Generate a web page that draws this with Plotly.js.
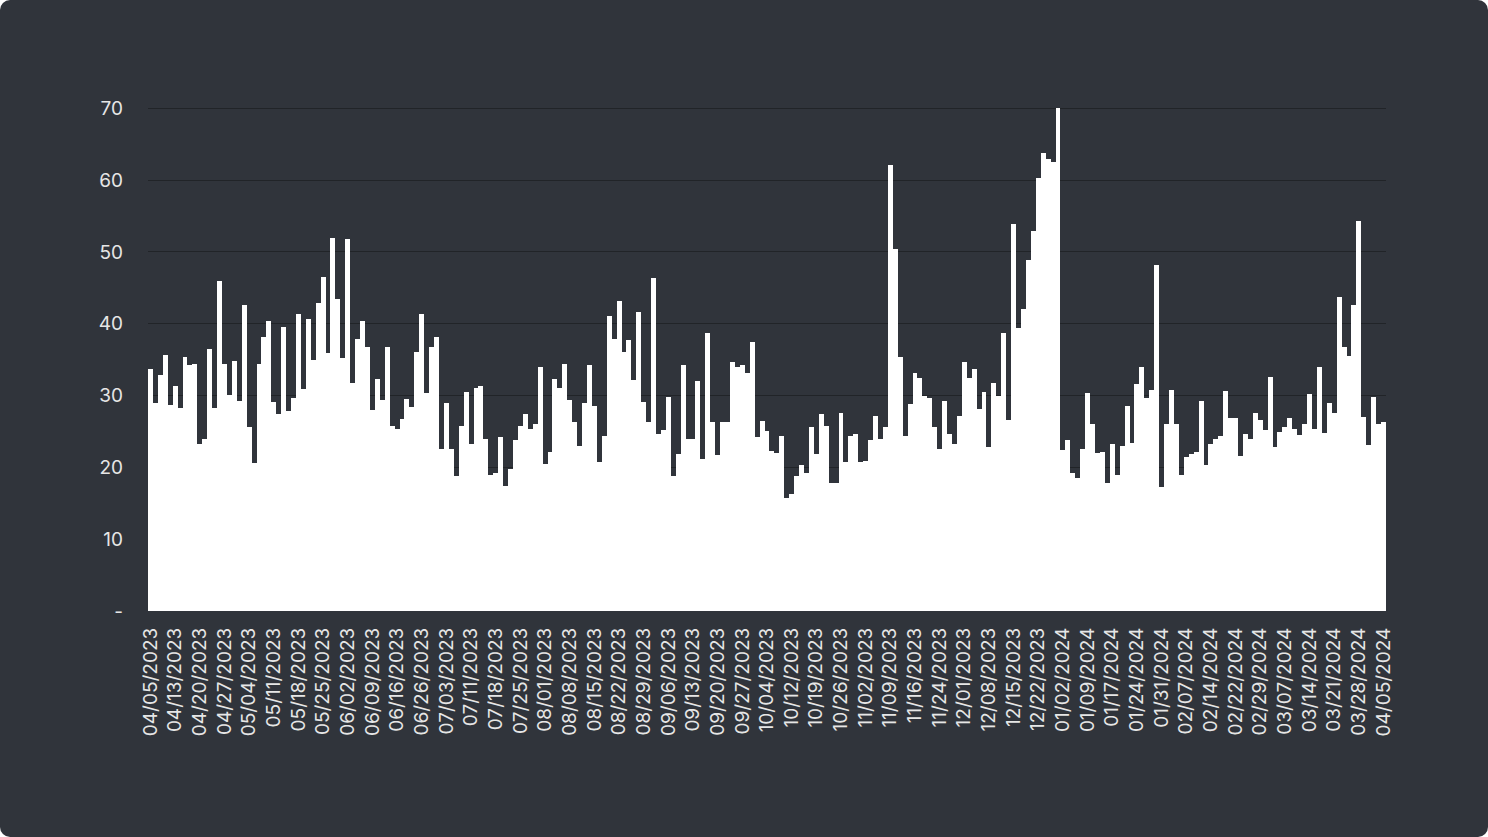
<!DOCTYPE html>
<html>
<head>
<meta charset="utf-8">
<script src="https://cdn.plot.ly/plotly-3.0.1.min.js"></script>
<style>
  html, body { margin: 0; padding: 0; background: #ffffff; }
  #chart { width: 1488px; height: 837px; background: #30343b; border-radius: 10px; overflow: hidden; }
</style>
</head>
<body>
<div id="chart"></div>
<script>
// trading days, one row per 5 sessions (every row starts with a tick label)
const dates = [
  "04/05/2023", "04/06/2023", "04/10/2023", "04/11/2023", "04/12/2023",
  "04/13/2023", "04/14/2023", "04/17/2023", "04/18/2023", "04/19/2023",
  "04/20/2023", "04/21/2023", "04/24/2023", "04/25/2023", "04/26/2023",
  "04/27/2023", "04/28/2023", "05/01/2023", "05/02/2023", "05/03/2023",
  "05/04/2023", "05/05/2023", "05/08/2023", "05/09/2023", "05/10/2023",
  "05/11/2023", "05/12/2023", "05/15/2023", "05/16/2023", "05/17/2023",
  "05/18/2023", "05/19/2023", "05/22/2023", "05/23/2023", "05/24/2023",
  "05/25/2023", "05/26/2023", "05/30/2023", "05/31/2023", "06/01/2023",
  "06/02/2023", "06/05/2023", "06/06/2023", "06/07/2023", "06/08/2023",
  "06/09/2023", "06/12/2023", "06/13/2023", "06/14/2023", "06/15/2023",
  "06/16/2023", "06/20/2023", "06/21/2023", "06/22/2023", "06/23/2023",
  "06/26/2023", "06/27/2023", "06/28/2023", "06/29/2023", "06/30/2023",
  "07/03/2023", "07/05/2023", "07/06/2023", "07/07/2023", "07/10/2023",
  "07/11/2023", "07/12/2023", "07/13/2023", "07/14/2023", "07/17/2023",
  "07/18/2023", "07/19/2023", "07/20/2023", "07/21/2023", "07/24/2023",
  "07/25/2023", "07/26/2023", "07/27/2023", "07/28/2023", "07/31/2023",
  "08/01/2023", "08/02/2023", "08/03/2023", "08/04/2023", "08/07/2023",
  "08/08/2023", "08/09/2023", "08/10/2023", "08/11/2023", "08/14/2023",
  "08/15/2023", "08/16/2023", "08/17/2023", "08/18/2023", "08/21/2023",
  "08/22/2023", "08/23/2023", "08/24/2023", "08/25/2023", "08/28/2023",
  "08/29/2023", "08/30/2023", "08/31/2023", "09/01/2023", "09/05/2023",
  "09/06/2023", "09/07/2023", "09/08/2023", "09/11/2023", "09/12/2023",
  "09/13/2023", "09/14/2023", "09/15/2023", "09/18/2023", "09/19/2023",
  "09/20/2023", "09/21/2023", "09/22/2023", "09/25/2023", "09/26/2023",
  "09/27/2023", "09/28/2023", "09/29/2023", "10/02/2023", "10/03/2023",
  "10/04/2023", "10/05/2023", "10/06/2023", "10/10/2023", "10/11/2023",
  "10/12/2023", "10/13/2023", "10/16/2023", "10/17/2023", "10/18/2023",
  "10/19/2023", "10/20/2023", "10/23/2023", "10/24/2023", "10/25/2023",
  "10/26/2023", "10/27/2023", "10/30/2023", "10/31/2023", "11/01/2023",
  "11/02/2023", "11/03/2023", "11/06/2023", "11/07/2023", "11/08/2023",
  "11/09/2023", "11/10/2023", "11/13/2023", "11/14/2023", "11/15/2023",
  "11/16/2023", "11/17/2023", "11/20/2023", "11/21/2023", "11/22/2023",
  "11/24/2023", "11/27/2023", "11/28/2023", "11/29/2023", "11/30/2023",
  "12/01/2023", "12/04/2023", "12/05/2023", "12/06/2023", "12/07/2023",
  "12/08/2023", "12/11/2023", "12/12/2023", "12/13/2023", "12/14/2023",
  "12/15/2023", "12/18/2023", "12/19/2023", "12/20/2023", "12/21/2023",
  "12/22/2023", "12/26/2023", "12/27/2023", "12/28/2023", "12/29/2023",
  "01/02/2024", "01/03/2024", "01/04/2024", "01/05/2024", "01/08/2024",
  "01/09/2024", "01/10/2024", "01/11/2024", "01/12/2024", "01/16/2024",
  "01/17/2024", "01/18/2024", "01/19/2024", "01/22/2024", "01/23/2024",
  "01/24/2024", "01/25/2024", "01/26/2024", "01/29/2024", "01/30/2024",
  "01/31/2024", "02/01/2024", "02/02/2024", "02/05/2024", "02/06/2024",
  "02/07/2024", "02/08/2024", "02/09/2024", "02/12/2024", "02/13/2024",
  "02/14/2024", "02/15/2024", "02/16/2024", "02/20/2024", "02/21/2024",
  "02/22/2024", "02/23/2024", "02/26/2024", "02/27/2024", "02/28/2024",
  "02/29/2024", "03/01/2024", "03/04/2024", "03/05/2024", "03/06/2024",
  "03/07/2024", "03/08/2024", "03/11/2024", "03/12/2024", "03/13/2024",
  "03/14/2024", "03/15/2024", "03/18/2024", "03/19/2024", "03/20/2024",
  "03/21/2024", "03/22/2024", "03/25/2024", "03/26/2024", "03/27/2024",
  "03/28/2024", "04/01/2024", "04/02/2024", "04/03/2024", "04/04/2024",
  "04/05/2024",
]

//prettier-ignore
const values = [
  33.7, 29.0, 32.9, 35.7, 28.7, 31.3, 28.2, 35.3, 34.2, 34.4,
  23.3, 23.9, 36.5, 28.3, 46.0, 34.4, 30.1, 34.8, 29.2, 42.6,
  25.6, 20.6, 34.4, 38.1, 40.4, 29.1, 27.4, 39.6, 27.8, 29.7,
  41.4, 30.9, 40.7, 35.0, 42.9, 46.5, 35.9, 51.9, 43.4, 35.2,
  51.8, 31.7, 37.8, 40.4, 36.8, 28.0, 32.3, 29.4, 36.8, 25.7,
  25.4, 26.7, 29.5, 28.4, 36.0, 41.4, 30.4, 36.8, 38.1, 22.6,
  28.9, 22.6, 18.75, 25.7, 30.5, 23.2, 31.0, 31.3, 24.0, 18.9,
  19.2, 24.2, 17.4, 19.7, 23.8, 25.7, 27.4, 25.3, 26.0, 34.0,
  20.5, 22.1, 32.3, 31.1, 34.4, 29.4, 26.3, 23.0, 28.9, 34.3,
  28.5, 20.7, 24.3, 41.1, 37.8, 43.2, 36.0, 37.7, 32.1, 41.6,
  29.1, 26.25, 46.4, 24.7, 25.2, 29.8, 18.75, 21.9, 34.2, 23.9,
  24.0, 32.0, 21.1, 38.75, 26.3, 21.7, 26.25, 26.3, 34.6, 34.0,
  34.3, 33.2, 37.4, 24.2, 26.5, 25.0, 22.3, 22.0, 24.3, 15.8,
  16.25, 18.8, 20.3, 19.2, 25.6, 21.9, 27.45, 25.8, 17.8, 17.8,
  27.5, 20.7, 24.35, 24.7, 20.8, 20.9, 23.8, 27.1, 23.9, 25.55,
  62.1, 50.4, 35.4, 24.4, 28.8, 33.1, 32.4, 29.9, 29.7, 25.6,
  22.5, 29.2, 24.6, 23.2, 27.1, 34.7, 32.4, 33.75, 28.1, 30.5,
  22.9, 31.7, 30.0, 38.7, 26.6, 53.9, 39.4, 42.0, 48.9, 52.9,
  60.3, 63.75, 62.9, 62.5, 70.0, 22.4, 23.8, 19.2, 18.5, 22.6,
  30.4, 26.0, 22.0, 22.2, 17.8, 23.3, 18.9, 23.0, 28.6, 23.4,
  31.6, 34.0, 29.6, 30.8, 48.1, 17.2, 26.1, 30.7, 26.1, 19.0,
  21.5, 21.8, 22.2, 29.2, 20.3, 23.3, 24.0, 24.4, 30.6, 26.8,
  26.9, 21.6, 24.6, 23.9, 27.6, 26.6, 25.2, 32.6, 22.9, 24.9,
  25.6, 26.8, 25.4, 24.5, 26.1, 30.2, 25.3, 34.0, 24.8, 28.9,
  27.6, 43.75, 36.7, 35.5, 42.6, 54.35, 27.0, 23.1, 29.8, 26.1,
  26.25,
]

// every 5th session gets a label
const xTicks = dates.filter((d, i) => i % 5 === 0)

const yTickVals = [0, 10, 20, 30, 40, 50, 60, 70]
const yTickText = ["-", "10", "20", "30", "40", "50", "60", "70"]

const trace = {
  x: dates,
  y: values,
  type: "bar",
  marker: { color: "#ffffff", line: { width: 0 } },
  hoverinfo: "x+y",
}

const layout = {
  width: 1488,
  height: 837,
  margin: { l: 148, r: 102, t: 101, b: 226 },
  paper_bgcolor: "rgba(0,0,0,0)",
  plot_bgcolor: "rgba(0,0,0,0)",
  bargap: 0,
  showlegend: false,
  font: { family: "Inter, 'Noto Sans', sans-serif", size: 19, color: "#e6e6e6" },
  xaxis: {
    type: "category",
    tickmode: "array",
    tickvals: xTicks,
    ticktext: xTicks,
    tickangle: -90,
    showgrid: false,
    zeroline: false,
    showline: false,
    ticks: "",
    ticklabelstandoff: 12,
  },
  yaxis: {
    range: [0, 71],
    tickmode: "array",
    tickvals: yTickVals,
    ticktext: yTickText,
    showgrid: true,
    gridcolor: "#212428",
    gridwidth: 1,
    zeroline: false,
    showline: false,
    ticks: "",
    ticklabelstandoff: 24,
  },
}

Plotly.newPlot("chart", [trace], layout, { displayModeBar: false, staticPlot: true })
</script>
</body>
</html>
